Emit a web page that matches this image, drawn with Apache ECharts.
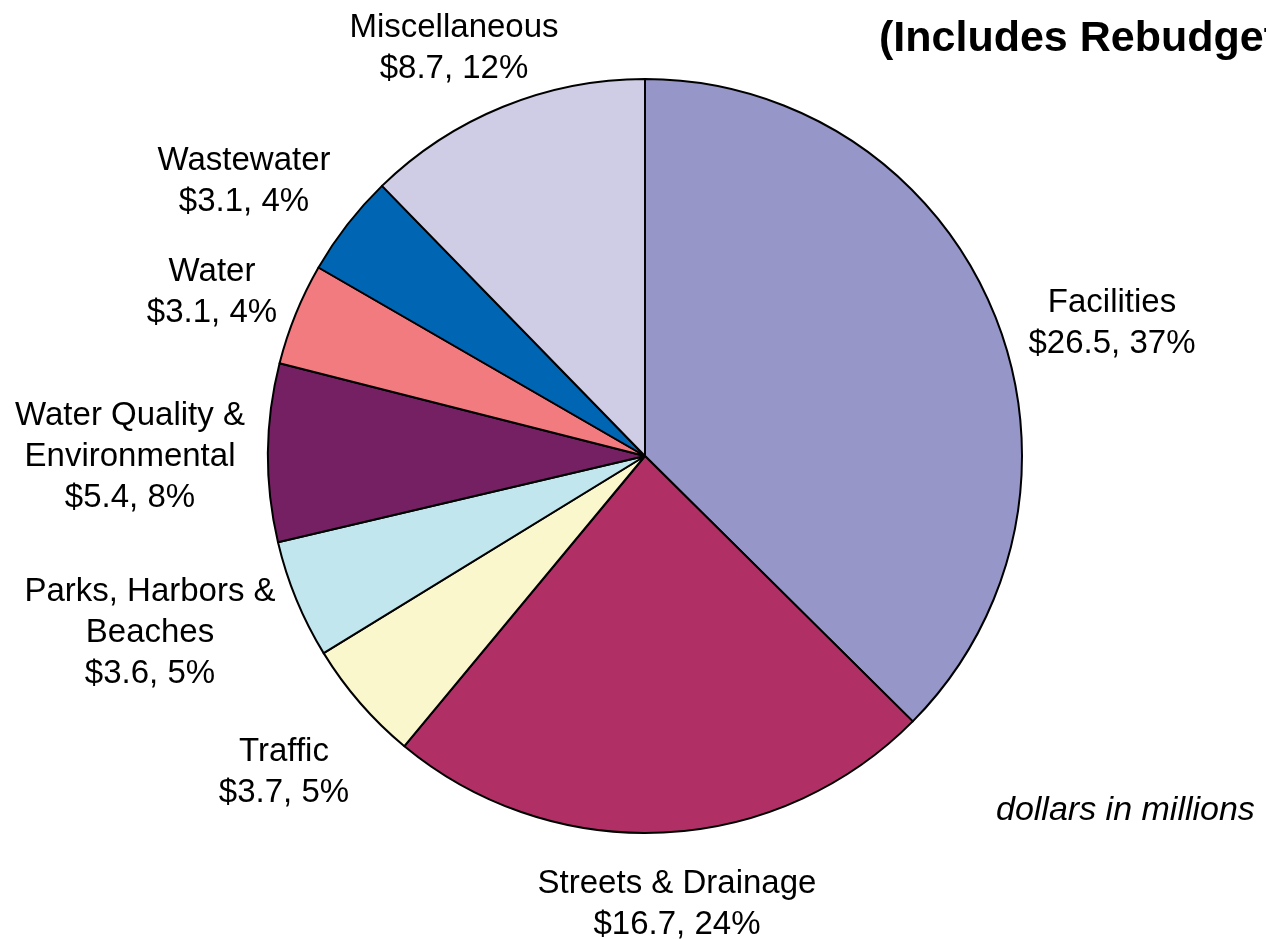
<!DOCTYPE html>
<html>
<head>
<meta charset="utf-8">
<script src="https://cdn.jsdelivr.net/npm/echarts@6/dist/echarts.min.js"></script>
<style>
  html, body { margin: 0; padding: 0; background: #fff; }
  #chart { width: 1266px; height: 939px; }
</style>
</head>
<body>
<div id="chart"></div>
<script>
// capital budget by program, dollars in millions
const categories = [
  'Facilities',
  'Streets & Drainage',
  'Traffic',
  'Parks, Harbors &\nBeaches',
  'Water Quality &\nEnvironmental',
  'Water',
  'Wastewater',
  'Miscellaneous'
]
const values = [26.5, 16.7, 3.7, 3.6, 5.4, 3.1, 3.1, 8.7]
const colors = ['#9696c8', '#b03066', '#faf7cd', '#c1e6ee', '#742062', '#f27b80', '#0066b3', '#cfcde6']

// where each label block sits (centre), in pixels
const labelSpots = [
  [1112, 323], [677, 904], [284, 772], [150, 633],
  [130, 457], [212, 292], [244, 181], [454, 48]
]

const chart = echarts.init(document.getElementById('chart'))
const font = '"Liberation Sans", Arial, sans-serif'

const option = {
  animation: false,
  backgroundColor: '#fff',
  title: [{
    text: '(Includes Rebudgets)',
    left: 879,
    top: 18,
    padding: 0,
    textStyle: {
      fontFamily: font,
      fontWeight: 'bold',
      fontSize: 43,
      color: '#000'
    }
  }, {
    text: 'dollars in millions',
    left: 996,
    top: 794,
    padding: 0,
    textStyle: {
      fontFamily: font,
      fontStyle: 'italic',
      fontWeight: 'normal',
      fontSize: 34,
      color: '#000'
    }
  }],
  series: [{
    type: 'pie',
    center: [645, 456],
    radius: 377,
    startAngle: 90,
    clockwise: true,
    avoidLabelOverlap: false,
    itemStyle: {
      borderColor: '#000',
      borderWidth: 2
    },
    label: {
      show: true,
      position: 'outside',
      fontFamily: font,
      fontSize: 33,
      lineHeight: 41,
      color: '#000',
      align: 'center',
      formatter: function(p) {
        return p.name + '\n$' + p.value.toFixed(1) + ', ' + Math.round(p.percent) + '%'
      }
    },
    labelLine: { show: false },
    labelLayout: function(p) {
      const s = labelSpots[p.dataIndex]
      return { x: s[0], y: s[1], align: 'center', verticalAlign: 'middle' }
    },
    emphasis: { disabled: true },
    data: categories.map((name, i) => ({
      name: name,
      value: values[i],
      itemStyle: { color: colors[i] }
    }))
  }]
}
chart.setOption(option)
</script>
</body>
</html>
